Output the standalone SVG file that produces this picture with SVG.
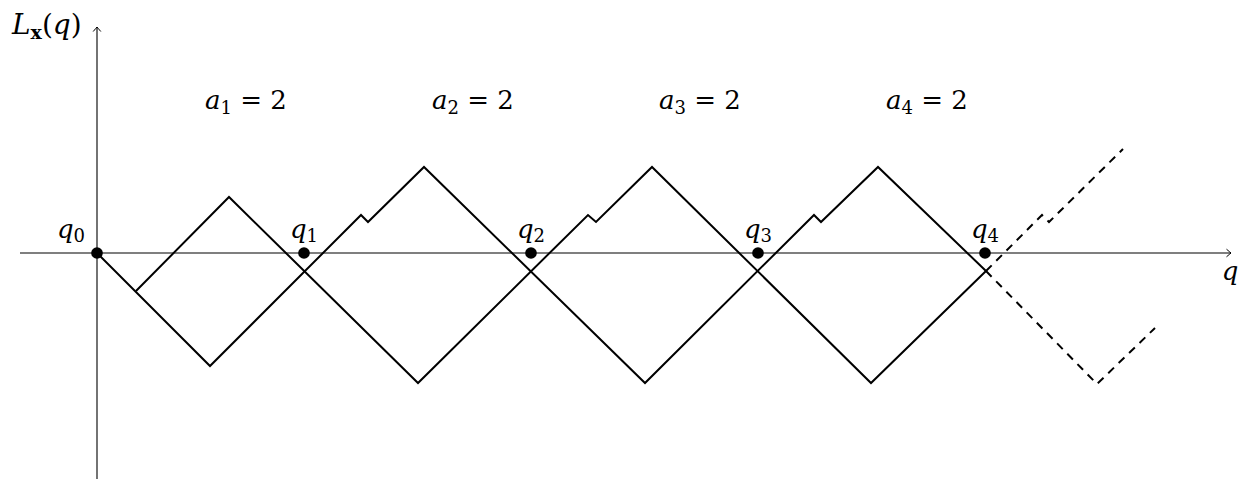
<svg xmlns="http://www.w3.org/2000/svg" width="1249" height="479" viewBox="0 0 1249 479">
<style>
.ax{stroke:#000;stroke-width:1.1;fill:none}
.ln{stroke:#000;stroke-width:2;fill:none;stroke-linejoin:miter}
.ds{stroke:#000;stroke-width:2;fill:none;stroke-dasharray:8 6.5}
.t{font-family:"DejaVu Serif",serif;font-size:26px;fill:#000}
.i{font-style:italic}
.s{font-size:18px}
.dot{fill:#000}
</style>
<defs>
<marker id="arr" viewBox="-6 -5 8 10" markerWidth="8" markerHeight="10" refX="0" refY="0" orient="auto" markerUnits="userSpaceOnUse">
<path d="M-4.5,-3.8 Q-1.2,-1 0,0 Q-1.2,1 -4.5,3.8" fill="none" stroke="#000" stroke-width="1"/>
</marker>
</defs>
<rect width="1249" height="479" fill="#fff"/>
<g id="axes">
<line class="ax" x1="97" y1="479" x2="97" y2="27" marker-end="url(#arr)"/>
<line class="ax" x1="20" y1="253" x2="1231" y2="253" marker-end="url(#arr)"/>
<text class="t" x="12" y="34" font-size="28" style="font-size:28px"><tspan class="i">L</tspan><tspan class="s" font-weight="bold" dy="5" style="font-size:19px">x</tspan><tspan dy="-5">(</tspan><tspan class="i">q</tspan>)</text>
<text class="t i" x="1230" y="280" text-anchor="middle">q</text>
</g>
<g id="connectors">
<path class="ln" d="M97,253 L210,366 L361,215 L368,222 L424,167 L645,383 L814,215 L821,222 L878,167 L986,271"/>
<path class="ln" d="M136,291 L229,197 L418,383 L588,215 L596,222 L652,167 L871,383 L986,271"/>
<path class="ds" d="M986,271 L1042,215 L1049,222 L1123,149"/>
<path class="ds" d="M986,271 L1097,384 L1155,328"/>
</g>
<g id="labels">
<text class="t" x="246" y="109" text-anchor="middle"><tspan class="i">a</tspan><tspan class="s" dy="5">1</tspan><tspan dy="-5"> = 2</tspan></text>
<text class="t" x="473" y="109" text-anchor="middle"><tspan class="i">a</tspan><tspan class="s" dy="5">2</tspan><tspan dy="-5"> = 2</tspan></text>
<text class="t" x="700" y="109" text-anchor="middle"><tspan class="i">a</tspan><tspan class="s" dy="5">3</tspan><tspan dy="-5"> = 2</tspan></text>
<text class="t" x="927" y="109" text-anchor="middle"><tspan class="i">a</tspan><tspan class="s" dy="5">4</tspan><tspan dy="-5"> = 2</tspan></text>
</g>
<g id="q0"><circle class="dot" cx="97" cy="253" r="5.8"/><text class="t" x="71" y="238" text-anchor="middle"><tspan class="i">q</tspan><tspan class="s" dy="4">0</tspan></text></g>
<g id="q1"><circle class="dot" cx="304" cy="253" r="5.8"/><text class="t" x="304" y="238" text-anchor="middle"><tspan class="i">q</tspan><tspan class="s" dy="4">1</tspan></text></g>
<g id="q2"><circle class="dot" cx="531" cy="253" r="5.8"/><text class="t" x="531" y="238" text-anchor="middle"><tspan class="i">q</tspan><tspan class="s" dy="4">2</tspan></text></g>
<g id="q3"><circle class="dot" cx="758" cy="253" r="5.8"/><text class="t" x="758" y="238" text-anchor="middle"><tspan class="i">q</tspan><tspan class="s" dy="4">3</tspan></text></g>
<g id="q4"><circle class="dot" cx="985" cy="253" r="5.8"/><text class="t" x="985" y="238" text-anchor="middle"><tspan class="i">q</tspan><tspan class="s" dy="4">4</tspan></text></g>
</svg>
